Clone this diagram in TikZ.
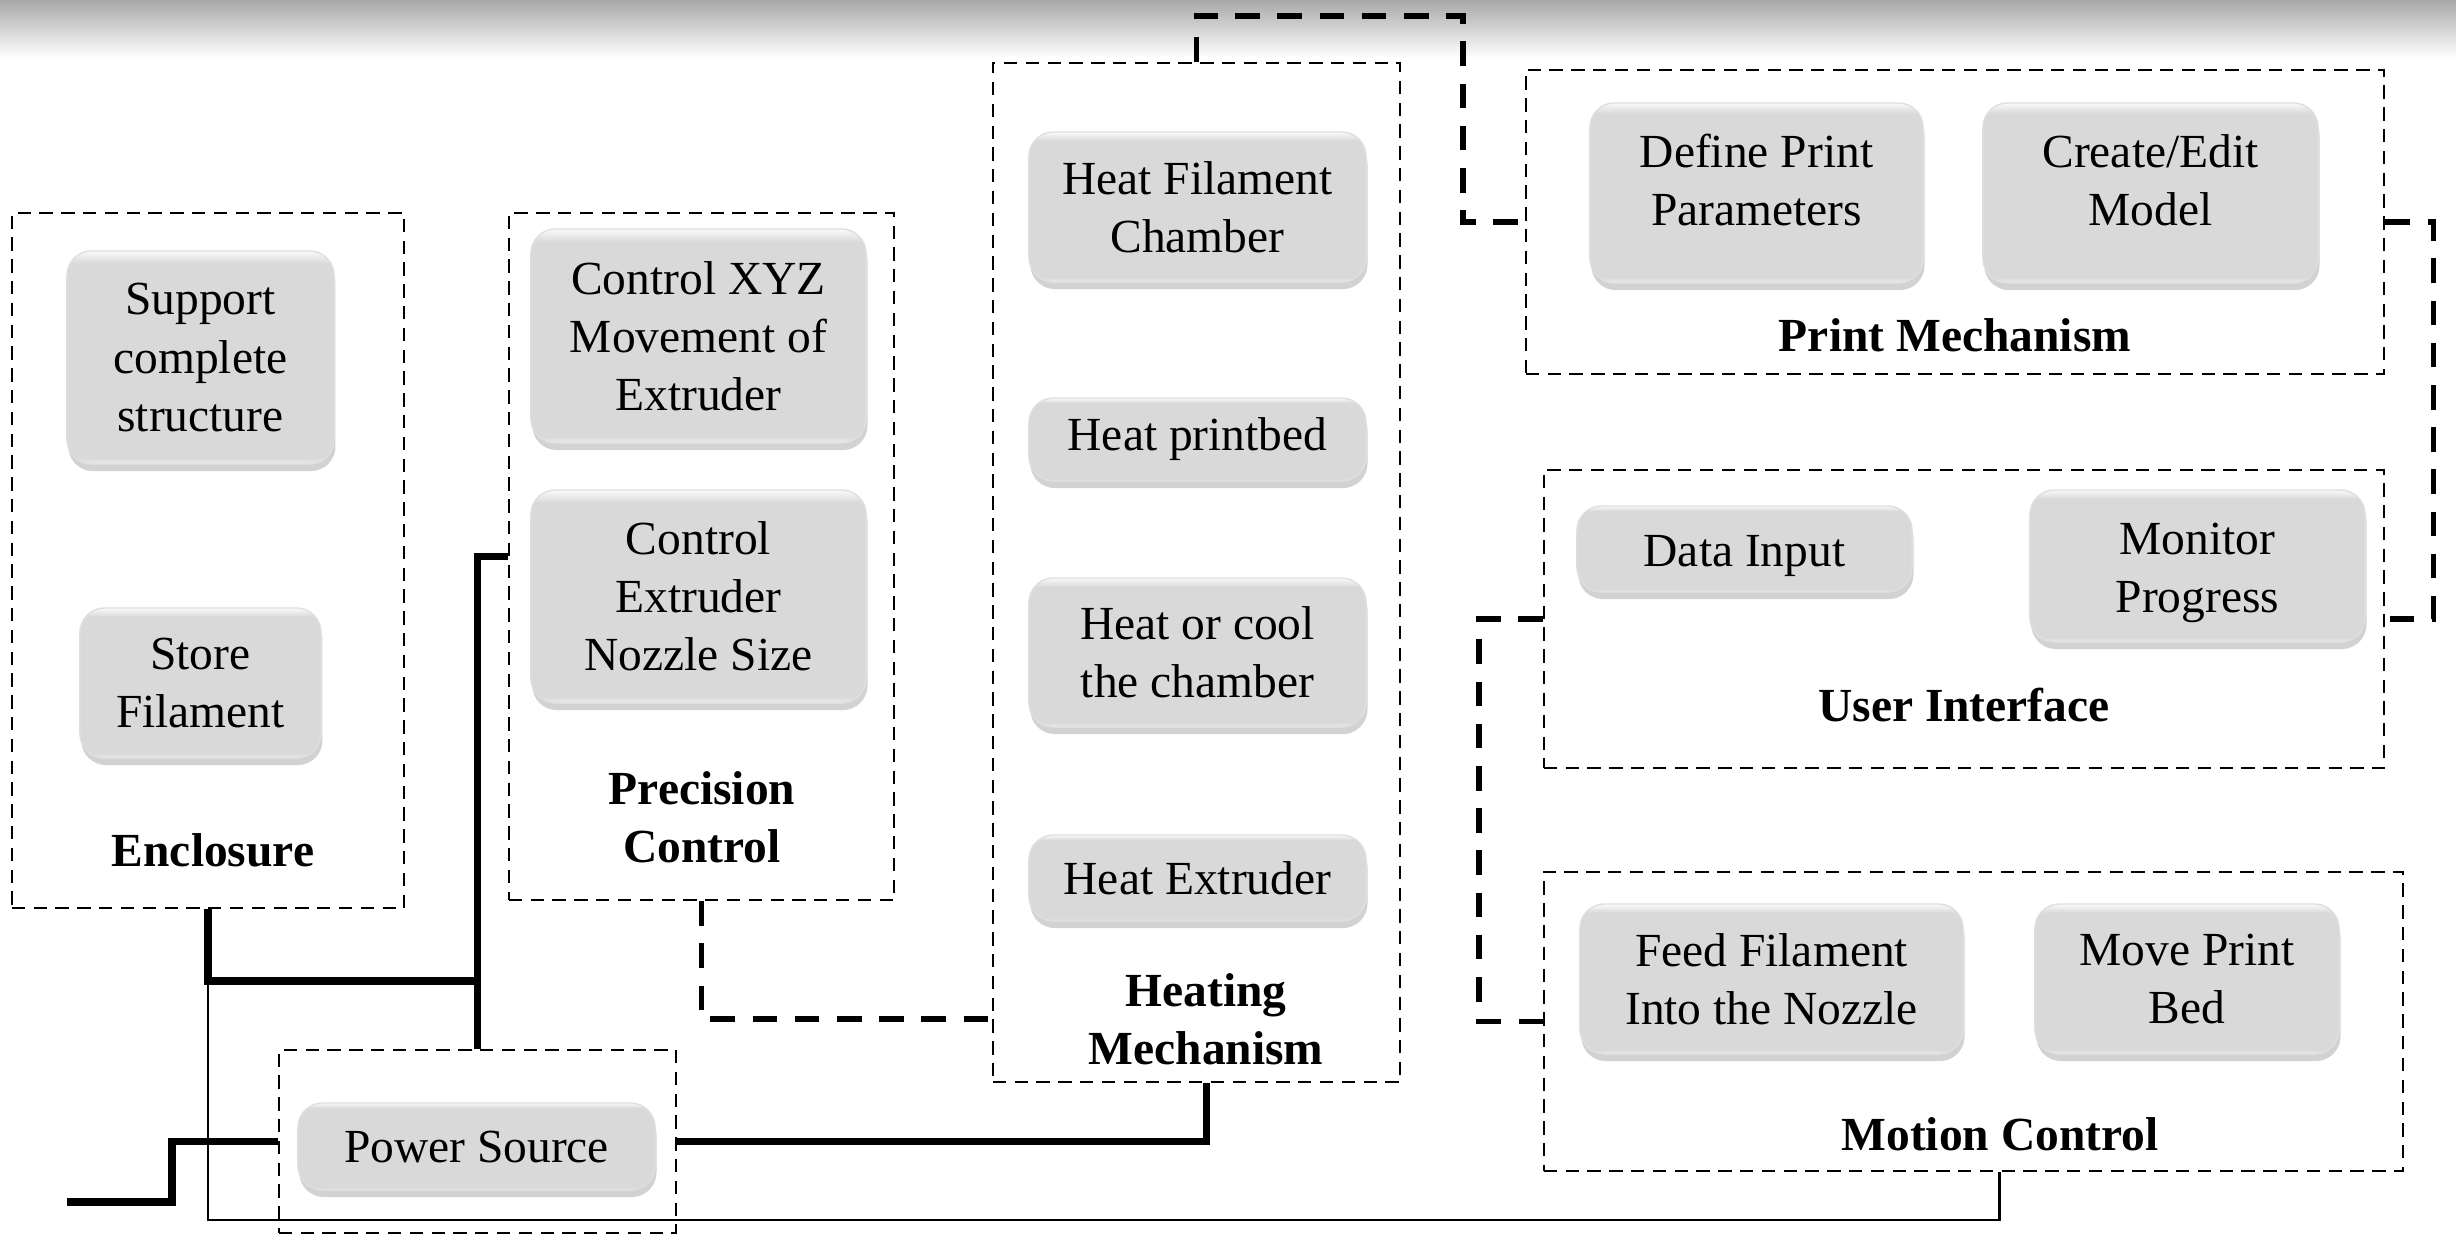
\documentclass[tikz,border=0pt]{standalone}
\usepackage{fontspec}
\setmainfont{Liberation Serif}
\usetikzlibrary{shadows,calc}
\pgfdeclareverticalshading{btnshade}{100bp}{color(0bp)=(gray!14); color(25bp)=(gray!14); color(26.5bp)=(gray!30); color(72bp)=(gray!30); color(75bp)=(gray!4); color(100bp)=(gray!4)}
\tikzset{
  grp/.style={draw, line width=0.6pt, dash pattern=on 3.8pt off 2.4pt, inner sep=0pt},
  btn/.style={shade, shading=btnshade, rounded corners=7pt, draw=gray!25, line width=0.4pt,
    align=center, inner sep=0pt, drop shadow={shadow xshift=0.4pt, shadow yshift=-2pt, opacity=0.35}},
  sz/.style 2 args={minimum width=#1cm, minimum height=#2cm},
  lbl/.style={align=center, font=\fontsize{13.5}{16.5}\selectfont\bfseries},
  pwr/.style={line width=2.2pt},
  wire/.style={line width=0.6pt},
  link/.style={line width=1.6pt, dash pattern=on 7pt off 5pt},
}
\begin{document}
\begin{tikzpicture}[x=0.01cm, y=-0.01cm, font=\fontsize{13.5}{16.5}\selectfont]
\useasboundingbox (0,0) rectangle (2456,1235);
\fill[white] (0,0) rectangle (2456,1235);
\shade[top color=gray!68, bottom color=white] (0,0) rectangle (2456,58);

% groups
\node[grp, sz={3.92}{6.95}] (encl) at (208,560.5) {};
\node[grp, sz={3.85}{6.87}] (prec) at (701.5,556.5) {};
\node[grp, sz={4.07}{10.19}] (heat) at (1196.5,572.5) {};
\node[grp, sz={8.58}{3.04}] (printm) at (1955,222) {};
\node[grp, sz={8.40}{2.98}] (ui) at (1964,619) {};
\node[grp, sz={8.59}{2.99}] (motion) at (1973.5,1021.5) {};
\node[grp, sz={3.97}{1.83}] (power) at (477.5,1141.5) {};

% functions
\node[btn, sz={2.67}{2.13}] (sup) at (200.5,357.5) {Support\\complete\\structure};
\node[btn, sz={2.41}{1.50}] (store) at (200.5,683) {Store\\Filament};
\node[btn, sz={3.35}{2.14}] (xyz) at (698.5,336) {Control XYZ\\Movement of\\Extruder};
\node[btn, sz={3.35}{2.13}] (nozzle) at (698.5,596.5) {Control\\Extruder\\Nozzle Size};
\node[btn, sz={3.37}{1.50}] (hfc) at (1197.5,207) {Heat Filament\\Chamber};
\node[btn, sz={3.37}{0.83}] (hpb) at (1197.5,439.5) {Heat printbed};
\node[btn, sz={3.37}{1.49}] (hcc) at (1197.5,652.5) {Heat or cool\\the chamber};
\node[btn, sz={3.37}{0.86}] (hext) at (1197.5,878) {Heat Extruder};
\node[btn, sz={3.33}{1.80}] (dpp) at (1756.5,193) {};
\node[align=center] (dppT) at (1756.5,180) {Define Print\\Parameters};
\node[btn, sz={3.35}{1.80}] (cem) at (2150.5,193) {};
\node[align=center] (cemT) at (2150.5,180) {Create/Edit\\Model};
\node[btn, sz={3.35}{0.86}] (din) at (1744.5,549) {};
\node (dinT) at (1744.5,556) {Data Input};
\node[btn, sz={3.35}{1.52}] (mon) at (2197.5,566) {};
\node[align=center] (monT) at (2197.5,573) {Monitor\\Progress};
\node[btn, sz={3.83}{1.50}] (feed) at (1771.5,979) {Feed Filament\\Into the Nozzle};
\node[btn, sz={3.04}{1.50}] (bed) at (2187,979) {Move Print\\Bed};
\node[btn, sz={3.57}{0.87}] (src) at (476.5,1146.5) {Power Source};

% group titles
\node[lbl] (enclT) at (213,850) {Enclosure};
\node[lbl] (precT) at (702,817) {Precision\\Control};
\node[lbl] (heatT) at (1206,1019) {Heating\\Mechanism};
\node[lbl] (printmT) at (1955,335) {Print Mechanism};
\node[lbl] (uiT) at (1964,705) {User Interface};
\node[lbl] (motionT) at (2000,1134) {Motion Control};

% connections
\coordinate (j1) at (power.north |- 0,981);
\coordinate (mains) at (67,1202);
\draw[pwr] (encl.south) |- (j1);
\draw[pwr] (power.north) |- (prec.west);
\draw[pwr] (mains) -- ++(105,0) |- (power.west);
\draw[pwr] (power.east) -| ([xshift=0.1cm]heat.south);
\draw[wire] (encl.south) -- ++(0,311) -| ([xshift=0.26cm]motion.south);
\draw[link] (prec.south) |- (heat.west |- 0,1019);
\draw[link] (heat.north) |- (1463,16) |- (printm.west);
\draw[link] (printm.east) -- ++(48,0) |- (ui.east);
\draw[link] (ui.west) -- ++(-64,0) |- (motion.west);
\end{tikzpicture}
\end{document}
